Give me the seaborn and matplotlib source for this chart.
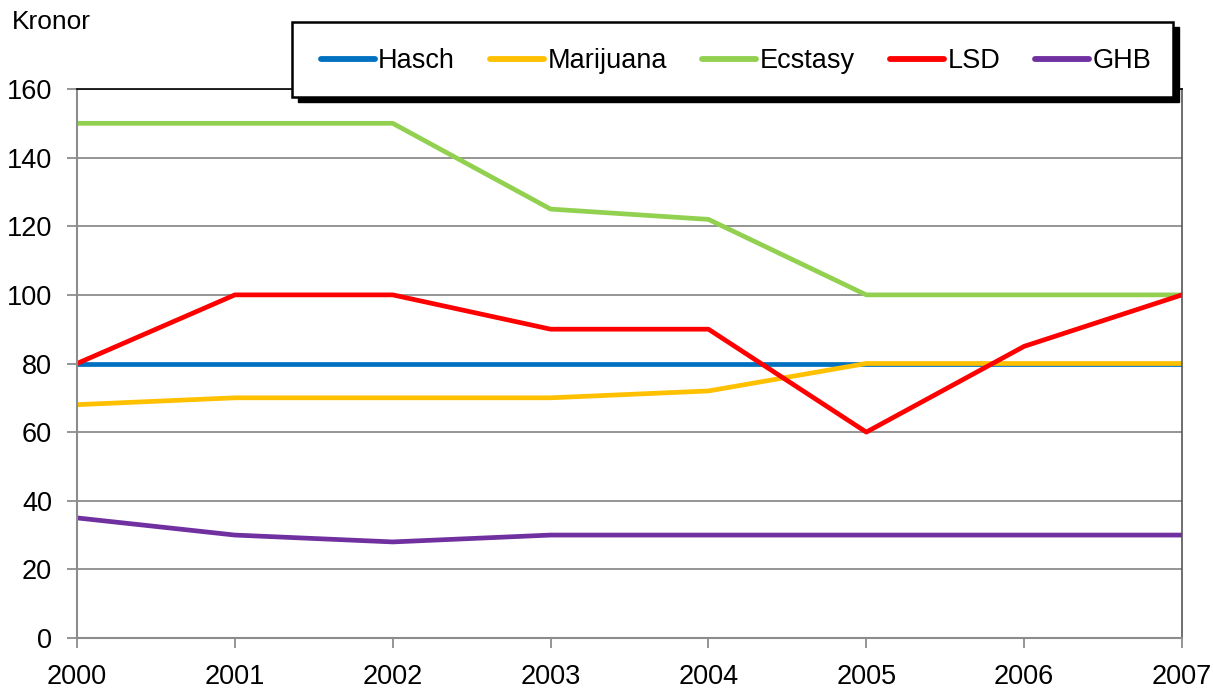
import matplotlib
matplotlib.use("Agg")
import matplotlib.pyplot as plt
from matplotlib.patches import Rectangle
from matplotlib.lines import Line2D
import seaborn as sns
import pandas as pd

years = [2000, 2001, 2002, 2003, 2004, 2005, 2006, 2007]
hasch = [80, 80, 80, 80, 80, 80, 80, 80]
marijuana = [68, 70, 70, 70, 72, 80, 80, 80]
ecstasy = [150, 150, 150, 125, 122, 100, 100, 100]
lsd = [80, 100, 100, 90, 90, 60, 85, 100]
ghb = [35, 30, 28, 30, 30, 30, 30, 30]
series_names = ["Hasch", "Marijuana", "Ecstasy", "LSD", "GHB"]
series_values = [hasch, marijuana, ecstasy, lsd, ghb]
colors = ["#0070C0", "#FFC000", "#92D050", "#FF0000", "#7030A0"]
yticks = [0, 20, 40, 60, 80, 100, 120, 140, 160]

rows = []
for name, vals in zip(series_names, series_values):
    for y, v in zip(years, vals):
        rows.append({"year": y, "value": v, "drug": name})
df = pd.DataFrame(rows)

sns.set_theme(style="white")
plt.rcParams["font.family"] = ["Liberation Sans", "DejaVu Sans"]
plt.rcParams["text.color"] = "black"

W, H = 1213, 690
fig = plt.figure(figsize=(W / 100, H / 100), dpi=100)
ax = fig.add_axes([77 / W, 1 - 638 / H, (1182 - 77) / W, (638 - 89) / H])

sns.lineplot(data=df, x="year", y="value", hue="drug", hue_order=series_names,
             palette=colors, linewidth=3.4, ax=ax, legend=False, sort=False)

ax.set_xlim(2000, 2007)
ax.set_ylim(0, 160)
ax.set_xticks(years)
ax.set_xticklabels([str(y) for y in years])
ax.set_yticks(yticks)
ax.set_xlabel("")
ax.set_ylabel("")
ax.yaxis.grid(True, color="#8c8c8c", linewidth=1.3)
ax.set_axisbelow(True)
ax.tick_params(axis="both", labelsize=19.5, colors="#8c8c8c", labelcolor="black",
               direction="out", width=1.3)
ax.tick_params(axis="y", length=7, pad=11, left=True)
ax.tick_params(axis="x", length=7, pad=12, bottom=True)
for s in ["left", "bottom"]:
    ax.spines[s].set_color("#8c8c8c")
    ax.spines[s].set_linewidth(1.5)
ax.spines["top"].set_color("black")
ax.spines["top"].set_linewidth(1.2)
ax.spines["right"].set_color("#555555")
ax.spines["right"].set_linewidth(1.2)

fig.text(12 / W, 1 - 22 / H, "Kronor", fontsize=19, va="center", ha="left", color="black")

# legend box with shadow
bx0, bx1, by0, by1 = 292, 1173, 22, 97
shadow = Rectangle(((bx0 + 6) / W, 1 - (by1 + 5) / H), (bx1 - bx0) / W, (by1 - by0) / H,
                   transform=fig.transFigure, facecolor="black", edgecolor="black",
                   zorder=4)
box = Rectangle((bx0 / W, 1 - by1 / H), (bx1 - bx0) / W, (by1 - by0) / H,
                transform=fig.transFigure, facecolor="white", edgecolor="black",
                linewidth=1.8, zorder=4.5)
fig.patches.extend([shadow, box])

handles = [Line2D([0], [0], color=c, linewidth=4.2, solid_capstyle="round") for c in colors]
leg = fig.legend(handles, series_names, loc="center",
                 bbox_to_anchor=(736 / W, 1 - 61 / H), ncol=5, frameon=False,
                 fontsize=19.5, handlelength=2.0, handletextpad=0.12,
                 columnspacing=1.3, borderaxespad=0, labelcolor="black")
leg.set_zorder(6)

fig.savefig("out.png", dpi=100)
